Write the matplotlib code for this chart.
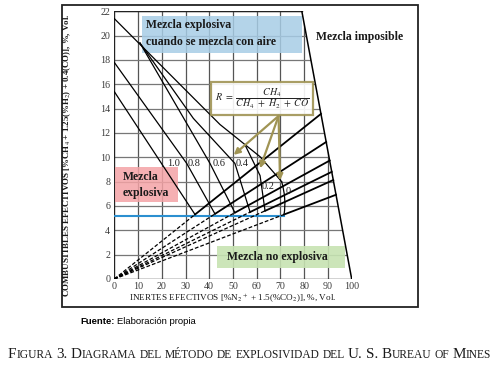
import numpy as np
import matplotlib.pyplot as plt
from matplotlib.patches import Polygon, Rectangle, PathPatch
from matplotlib.path import Path

plt.rcParams['font.family'] = ['Liberation Serif', 'DejaVu Serif']
plt.rcParams['mathtext.fontset'] = 'stix'

# axis ticks
x_ticks = list(range(0, 101, 10))
y_ticks = list(range(0, 23, 2))

# R families: nose points on the lower limit, label positions
r_labels = ['1.0', '0.8', '0.6', '0.4', '0.2', '0']
nose_x = [34.0, 42.4, 50.8, 57.2, 63.5, 71.5]
nose_y = [5.3, 5.35, 5.45, 5.5, 5.6, 5.3]
label_x = [22.3, 31.0, 41.6, 51.2, 62.2, 72.3]
label_y = [9.5, 9.5, 9.5, 9.5, 7.6, 7.2]

# upper limit lines
upper_x = [[0, 34.0],
           [0, 30.5, 42.4],
           [10.8, 40.3, 50.8],
           [10.8, 33.3, 50.8, 57.2],
           [55.0, 61.4, 63.5],
           [0, 44.5, 61.4, 70.5]]
upper_y = [[15.4, 5.3],
           [17.8, 9.5, 5.35],
           [19.4, 9.5, 5.45],
           [19.4, 13.2, 9.5, 5.5],
           [11.05, 8.5, 5.6],
           [21.4, 12.7, 10.05, 8.0]]

lel_y = 5.2
lel_end = 71.5
boundary_x = [79.0, 100.0]
boundary_y = [22.0, 0.0]

# formula box and arrows
box_x = [40.8, 83.8]
box_y = [13.5, 16.2]
arrow_from = (69.2, 13.4)
arrow_to_x = [50.3, 61.4, 69.8]
arrow_to_y = [10.2, 9.1, 8.1]

W, H = 493, 370
fig = plt.figure(figsize=(W / 100, H / 100), dpi=100)
renderer = fig.canvas.get_renderer()


def fx(px):
    return px / W


def fy(py):
    return 1 - py / H


ax = fig.add_axes([fx(114.3), fy(279), fx(351.7) - fx(114.3), fy(11.3) - fy(279)])
ax.set_xlim(0, 100)
ax.set_ylim(0, 22)
for s in ax.spines.values():
    s.set_visible(False)
ax.set_xticks(x_ticks)
ax.set_yticks(y_ticks)
ax.tick_params(length=0, labelsize=7.2, colors='#3a3a3a')
ax.tick_params(axis='x', pad=2.5)
ax.tick_params(axis='y', pad=3)

# grid clipped to the possible-mixture region
region = Polygon([(0, 0), (boundary_x[1], boundary_y[1]), (boundary_x[0], boundary_y[0]), (0, 22)],
                 closed=True, transform=ax.transData, facecolor='none', edgecolor='none')
ax.add_patch(region)
for xv in x_ticks[1:]:
    ln, = ax.plot([xv, xv], [0, 22], color='#555555', lw=0.9, zorder=1)
    ln.set_clip_path(region)
for yv in y_ticks[1:]:
    ln, = ax.plot([0, 100], [yv, yv], color='#777777', lw=0.9, zorder=1)
    ln.set_clip_path(region)
ax.plot([0, 0], [0, 22], color='#222222', lw=1.0, zorder=2)
ax.plot([0, 100], [0, 0], color='#222222', lw=1.0, zorder=2)
ax.plot([0, boundary_x[0]], [22, 22], color='#222222', lw=1.0, zorder=2)
ax.plot(boundary_x, boundary_y, color='black', lw=1.1, zorder=4)

# shaded labels
ax.add_patch(Rectangle((11.8, 18.6), 67.4, 3.0, facecolor='#a7cde6', alpha=0.85,
                       edgecolor='none', zorder=2))
ax.add_patch(Rectangle((0.3, 6.3), 26.7, 2.9, facecolor='#f4a3a6', alpha=0.85,
                       edgecolor='none', zorder=2))
ax.add_patch(Rectangle((43.1, 0.88), 54.1, 1.85, facecolor='#c7e3b2', alpha=0.9,
                       edgecolor='none', zorder=2))

# limit lines
ax.plot([0, lel_end], [lel_y, lel_y], color='#2b8fd0', lw=1.5, zorder=3)
dxb = boundary_x[0] - boundary_x[1]
dyb = boundary_y[0] - boundary_y[1]
for k in range(len(nose_x)):
    m = nose_y[k] / nose_x[k]
    # where the line from the origin through the nose meets the boundary
    s_par = (m * boundary_x[1] - boundary_y[1]) / (dyb - m * dxb)
    ex, ey = boundary_x[1] + s_par * dxb, boundary_y[1] + s_par * dyb
    ax.plot([0, nose_x[k]], [0, nose_y[k]], color='black', lw=0.9, ls=(0, (3, 1.6)), zorder=3)
    ax.plot([nose_x[k], ex], [nose_y[k], ey], color='black', lw=1.3, zorder=3)
    ax.plot(upper_x[k], upper_y[k], color='black', lw=0.9, zorder=3)
    ax.text(label_x[k], label_y[k], r_labels[k], fontsize=7.5, color='#222222',
            ha='left', va='center', zorder=5)

# rounded nose of the R = 0 curve
ax.add_patch(PathPatch(Path([(upper_x[5][-1], upper_y[5][-1]), (72.6, 6.6), (nose_x[5], nose_y[5])],
                            [Path.MOVETO, Path.CURVE3, Path.CURVE3]),
                       facecolor='none', edgecolor='black', lw=0.9, zorder=3))

# formula box
ax.add_patch(Rectangle((box_x[0], box_y[0]), box_x[1] - box_x[0], box_y[1] - box_y[0],
                       facecolor='white', alpha=0.9, edgecolor='#a09454', lw=1.6, zorder=5))
ax.text((box_x[0] + box_x[1]) / 2, (box_y[0] + box_y[1]) / 2 - 0.05,
        r'$R\ =\ \dfrac{CH_4}{CH_4\ +\ H_2\ +\ CO}$', fontsize=7.2, ha='center', va='center',
        color='#222222', zorder=6)
for tx, ty in zip(arrow_to_x, arrow_to_y):
    ax.annotate('', xy=(tx, ty), xytext=arrow_from, zorder=6,
                arrowprops=dict(arrowstyle='-|>', color='#a09454', lw=1.6,
                                mutation_scale=9, shrinkA=0, shrinkB=0))

bold = dict(fontsize=8.5, fontweight='bold', color='#1a1a1a', zorder=6)
ax.text(13.5, 20.9, 'Mezcla explosiva', ha='left', va='center', **bold)
ax.text(13.5, 19.5, 'cuando se mezcla con aire', ha='left', va='center', **bold)
ax.text(85.0, 19.9, 'Mezcla imposible', ha='left', va='center', **bold)
ax.text(3.5, 8.4, 'Mezcla', ha='left', va='center', **bold)
ax.text(3.5, 7.1, 'explosiva', ha='left', va='center', **bold)
ax.text(68.5, 1.8, 'Mezcla no explosiva', ha='center', va='center', **bold)

# axis titles
fig.text(fx(233), fy(298.5), r'INERTES EFECTIVOS [%N$_2$$^+$ + 1.5(%CO$_2$)], %, Vol.',
         fontsize=6.6, ha='center', va='center', color='#1a1a1a')
fig.text(fx(67), fy(155), r'COMBUSTIBLES EFECTIVOS [%CH$_4$ + 1.25(%H$_2$) + 0.4(CO)], %, Vol.',
         fontsize=6.4, fontweight='bold', rotation=90, ha='center', va='center', color='#1a1a1a')

# outer frame
fig.patches.append(Rectangle((fx(62), fy(307)), fx(418) - fx(62), fy(5) - fy(307),
                             transform=fig.transFigure, fill=False, edgecolor='#222222',
                             lw=1.3))

# source note
t = fig.text(fx(80), fy(321), 'Fuente:', family='Liberation Sans', fontweight='bold',
             fontsize=6.8, ha='left', va='center')
nx = fx(80) + t.get_window_extent(renderer).width / W + 3 / W
fig.text(nx, fy(321), 'Elaboración propia', family='Liberation Sans',
         fontsize=6.8, ha='left', va='center')

# caption in small caps
caption = 'Figura 3. Diagrama del método de explosividad del U. S. Bureau of Mines'
cx = fx(8)
space = 3.2 / W
for word in caption.split(' '):
    runs = []
    for ch in word:
        big = not ch.islower()
        if runs and runs[-1][0] == big:
            runs[-1][1] += ch
        else:
            runs.append([big, ch])
    for big, txt in runs:
        t = fig.text(cx, fy(358), txt.upper(), fontsize=10.9 if big else 8.3,
                     ha='left', va='baseline', color='#1a1a1a')
        cx += t.get_window_extent(renderer).width / W
    cx += space

fig.savefig('out.png', dpi=100)
